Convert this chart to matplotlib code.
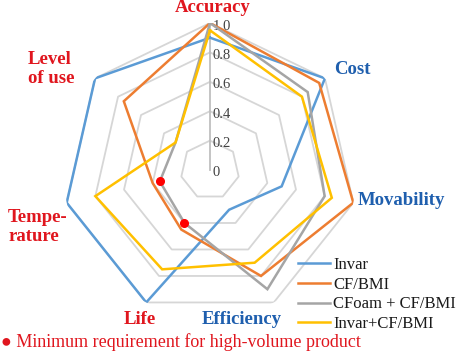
import numpy as np
import matplotlib
matplotlib.use("Agg")
import matplotlib.pyplot as plt
from matplotlib.transforms import offset_copy

# data
categories = ["Accuracy", "Cost", "Movability", "Efficiency", "Life", "Temperature", "Level of use"]
invar = [0.9, 1.0, 0.5, 0.3, 1.0, 1.0, 1.0]
cf_bmi = [1.0, 0.95, 1.0, 0.8, 0.45, 0.4, 0.75]
cfoam_cf_bmi = [1.0, 0.85, 0.8, 0.9, 0.4, 0.35, 0.3]
invar_cf_bmi = [0.95, 0.8, 0.85, 0.7, 0.75, 0.8, 0.3]
min_req_cats = ["Temperature", "Life"]
min_req_vals = [0.35, 0.4]
ticks = [0, 0.2, 0.4, 0.6, 0.8, 1.0]
tick_labels = ["0", "0.2", "0.4", "0.6", "0.8", "1.0"]

series = [
    ("Invar", invar, "#5B9BD5"),
    ("CF/BMI", cf_bmi, "#ED7D31"),
    ("CFoam + CF/BMI", cfoam_cf_bmi, "#A5A5A5"),
    ("Invar+CF/BMI", invar_cf_bmi, "#FFC000"),
]

W, H = 460, 352
fig = plt.figure(figsize=(W / 100, H / 100), dpi=100)
serif = ["Liberation Serif", "DejaVu Serif"]

cx, cy, R = 210, 170, 147
ax = fig.add_axes([(cx - R) / W, 1 - (cy + R) / H, 2 * R / W, 2 * R / H], projection="polar")
ax.set_theta_offset(np.pi / 2)
ax.set_theta_direction(-1)
ax.set_ylim(0, 1)
ax.set_xticks([])
ax.set_yticks([])
ax.grid(False)
ax.spines["polar"].set_visible(False)
ax.patch.set_alpha(0)

n = len(categories)
theta = np.arange(n) * 2 * np.pi / n
theta_closed = np.append(theta, theta[0])

# heptagon grid
for t in ticks[1:]:
    ax.plot(theta_closed, [t] * (n + 1), color="#d6d6d6", lw=1.3, zorder=1)
ax.plot([0, 0], [0, 1], color="#bfbfbf", lw=1.3, zorder=1)

tick_tr = offset_copy(ax.transData, fig=fig, x=3, y=-3, units="dots")
for t, lab in zip(ticks, tick_labels):
    ax.text(0, t, lab, transform=tick_tr, ha="left", va="center",
            fontsize=10.5, family=serif, color="#404040", zorder=2)

handles = []
for name, vals, col in series:
    h, = ax.plot(theta_closed, list(vals) + [vals[0]], color=col, lw=1.8,
                 label=name, zorder=3, solid_joinstyle="miter")
    handles.append(h)

min_theta = [theta[categories.index(c)] for c in min_req_cats]
ax.plot(min_theta, min_req_vals, "o", color="#ff0000", ms=5.5, zorder=5, ls="none")

red = "#e0161e"
blue = "#1f5fae"
lab_kw = dict(fontsize=13.5, fontweight="bold", family=serif)
fig.text(213 / W, 1 - 8 / H, "Accuracy", color=red, ha="center", va="center", **lab_kw)
fig.text(352 / W, 1 - 69 / H, "Cost", color=blue, ha="center", va="center", **lab_kw)
fig.text(401 / W, 1 - 200 / H, "Movability", color=blue, ha="center", va="center", **lab_kw)
fig.text(242 / W, 1 - 319 / H, "Efficiency", color=blue, ha="center", va="center", **lab_kw)
fig.text(140 / W, 1 - 319 / H, "Life", color=red, ha="center", va="center", **lab_kw)
fig.text(8 / W, 1 - 227 / H, "Tempe-\nrature", color=red, ha="left", va="center",
         linespacing=1.2, **lab_kw)
fig.text(28 / W, 1 - 69 / H, "Level\nof use", color=red, ha="left", va="center",
         linespacing=1.2, **lab_kw)

leg = fig.legend(handles=handles, loc="upper left", bbox_to_anchor=(298 / W, 1 - 257 / H),
                 bbox_transform=fig.transFigure, frameon=False, borderpad=0,
                 borderaxespad=0, handlelength=1.9, handletextpad=0.2,
                 labelspacing=0.22, prop={"family": "Liberation Serif", "size": 12})
for txt in leg.get_texts():
    txt.set_color("#1a1a1a")

fig.text(1 / W, 1 - 342 / H, "\u25cf Minimum requirement for high-volume product",
         color="#e0161e", ha="left", va="center", fontsize=13, family=serif)

fig.savefig("out.png", dpi=100)
